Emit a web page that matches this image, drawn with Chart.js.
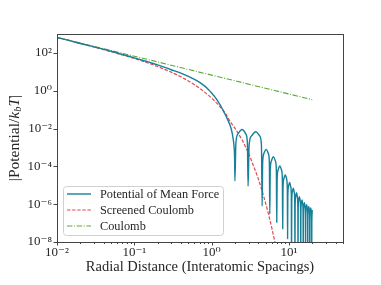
<!DOCTYPE html>
<html lang="en">
<head>
    <meta charset="UTF-8">
    <title>Potential of Mean Force</title>
    <script src="https://cdn.jsdelivr.net/npm/chart.js"></script>
    <style>
        body { margin: 0; background: #fff; }
        #wrap { width: 381px; height: 285px; position: relative; }
    </style>
</head>
<body>
<div id="wrap"><canvas id="graficoPMF"></canvas></div>

<script>
// potential of mean force
const pmfX = [0.01, 0.015, 0.02, 0.03, 0.05, 0.07, 0.1, 0.15, 0.2, 0.3,
    0.4, 0.5, 0.6, 0.7, 0.8, 0.9, 1.0, 1.1, 1.2, 1.3, 1.4, 1.5, 1.6, 1.7, 1.8, 1.9, 1.95, 1.98,
    2.0, 2.058, 2.192, 2.48, 2.768, 2.902,
    2.96, 3.052, 3.268, 3.73, 4.192, 4.408,
    4.5, 4.569, 4.73, 5.075, 5.42, 5.581,
    5.65, 5.728, 5.91, 6.3, 6.69, 6.872,
    6.95, 7.031, 7.22, 7.625, 8.03, 8.219,
    8.3, 8.378, 8.56, 8.95, 9.34, 9.522,
    9.6, 9.672, 9.84, 10.2, 10.56, 10.728,
    10.8, 10.869, 11.03, 11.375, 11.72, 11.881,
    11.95, 12.019, 12.18, 12.525, 12.87, 13.031,
    13.1, 13.166, 13.32, 13.65, 13.98, 14.134,
    14.2, 14.266, 14.42, 14.75, 15.08, 15.234,
    15.3, 15.366, 15.52, 15.85, 16.18, 16.334,
    16.4, 16.466, 16.62, 16.95, 17.28, 17.434,
    17.5, 17.566, 17.72, 18.05, 18.38, 18.534,
    18.6, 18.666, 18.82, 19.15, 19.48, 19.634,
    19.7, 19.766, 19.92, 20.0];
const pmfY = [646, 434, 316, 210, 123, 83, 55, 33.5, 23.4, 12.9,
    8.5, 5.75, 4.0, 2.75, 1.86, 1.2, 0.76, 0.47, 0.28, 0.166, 0.095, 0.055, 0.0316, 0.0178, 0.0089, 0.0028, 0.0011, 3.2e-4,
    1.7e-5, 1.66e-3, 5.2e-3, 8.9e-3, 5.2e-3, 1.66e-3,
    9e-6, 1.26e-3, 4.0e-3, 6.8e-3, 4.0e-3, 1.26e-3,
    8e-7, 1.48e-4, 4.7e-4, 7.9e-4, 4.7e-4, 1.48e-4,
    3e-7, 5.9e-5, 1.86e-4, 3.2e-4, 1.86e-4, 5.9e-5,
    1.1e-7, 1.95e-5, 6.2e-5, 1.05e-4, 6.2e-5, 1.95e-5,
    5e-8, 6.6e-6, 2.1e-5, 3.5e-5, 2.1e-5, 6.6e-6,
    1.5e-8, 2.6e-6, 8.3e-6, 1.41e-5, 8.3e-6, 2.6e-6,
    1e-9, 1.32e-6, 4.2e-6, 7.1e-6, 4.2e-6, 1.32e-6,
    1e-9, 7.4e-7, 2.3e-6, 4.0e-6, 2.3e-6, 7.4e-7,
    1e-9, 4.7e-7, 1.48e-6, 2.5e-6, 1.48e-6, 4.7e-7,
    1e-9, 3.1e-7, 9.8e-7, 1.66e-6, 9.8e-7, 3.1e-7,
    1e-9, 2.2e-7, 7.1e-7, 1.2e-6, 7.1e-7, 2.2e-7,
    1e-9, 1.74e-7, 5.5e-7, 9.3e-7, 5.5e-7, 1.74e-7,
    1e-9, 1.41e-7, 4.5e-7, 7.6e-7, 4.5e-7, 1.41e-7,
    1e-9, 1.17e-7, 3.7e-7, 6.3e-7, 3.7e-7, 1.17e-7,
    1e-9, 1.0e-7, 3.2e-7, 5.0e-7];

// screened coulomb
const scrX = [0.01, 0.02, 0.03, 0.05, 0.07, 0.1, 0.15, 0.2, 0.3, 0.4, 0.5, 0.6, 0.7, 0.8,
    1.0, 1.2, 1.5, 1.75, 2.0, 2.5, 3.0, 3.5, 4.0, 4.5, 5.0, 5.5, 6.0, 6.5, 7.0];
const scrY = [650, 317, 205, 116, 78, 50.6, 29.4, 19.1, 9.65, 5.47, 3.31, 2.08, 1.35, 0.89,
    0.41, 0.195, 0.067, 0.022, 0.0105, 2.4e-3, 5.0e-4, 1.0e-4, 2.3e-5, 5.0e-6, 1.1e-6, 2.5e-7, 5.6e-8, 1.25e-8, 2.9e-9];

// bare coulomb
const coulX = [0.01, 0.1, 1, 10, 20];
const coulY = [670, 67, 6.7, 0.67, 0.335];

const serieLabels = ["Potential of Mean Force", "Screened Coulomb", "Coulomb"];

const xTickVals = [0.01, 0.1, 1, 10];
const xTickLabels = ["10\u207B\u00B2", "10\u207B\u00B9", "10\u2070", "10\u00B9"];
const yTickVals = [1e-8, 1e-6, 1e-4, 1e-2, 1, 1e2];
const yTickLabels = ["10\u207B\u2078", "10\u207B\u2076", "10\u207B\u2074", "10\u207B\u00B2", "10\u2070", "10\u00B2"];

const FONT = "'Liberation Serif', 'DejaVu Serif', serif";
const INK = "#262626";

function pts(xs, ys) {
    return xs.map((x, i) => ({ x: x, y: ys[i] }));
}

// frame, minor ticks, y title and legend drawn by hand
const extras = {
    id: "extras",
    afterDraw(chart) {
        const ctx = chart.ctx;
        const a = chart.chartArea;
        const sx = chart.scales.x, sy = chart.scales.y;
        ctx.save();
        ctx.strokeStyle = "#444";
        ctx.lineWidth = 1;
        ctx.strokeRect(Math.round(a.left) + 0.5, Math.round(a.top) + 0.5,
            Math.round(a.right - a.left), Math.round(a.bottom - a.top));

        ctx.beginPath();
        for (let d = -2; d <= 1; d++) {
            for (let m = 1; m <= 9; m++) {
                const v = m * Math.pow(10, d);
                if (v > sx.max) continue;
                const px = Math.round(sx.getPixelForValue(v)) + 0.5;
                const len = m === 1 ? 3.5 : 2;
                ctx.moveTo(px, a.bottom);
                ctx.lineTo(px, a.bottom + len);
            }
        }
        yTickVals.forEach(v => {
            const py = Math.round(sy.getPixelForValue(v)) + 0.5;
            ctx.moveTo(a.left, py);
            ctx.lineTo(a.left - 3.5, py);
        });
        ctx.stroke();

        // y axis title with subscript
        ctx.translate(15, (a.top + a.bottom) / 2);
        ctx.rotate(-Math.PI / 2);
        ctx.fillStyle = INK;
        ctx.textBaseline = "middle";
        const parts = [
            ["|Potential/", "15.5px " + FONT, 0],
            ["k", "italic 15.5px " + FONT, 0],
            ["b", "italic 10.5px " + FONT, 3],
            ["T", "italic 15.5px " + FONT, 0],
            ["|", "15.5px " + FONT, 0]
        ];
        let total = 0;
        parts.forEach(p => { ctx.font = p[1]; total += ctx.measureText(p[0]).width; });
        let cx = -total / 2;
        parts.forEach(p => {
            ctx.font = p[1];
            ctx.fillText(p[0], cx, p[2]);
            cx += ctx.measureText(p[0]).width;
        });
        ctx.restore();

        // legend
        ctx.save();
        const bx = 63, by = 186, bw = 160, bh = 49;
        ctx.beginPath();
        ctx.roundRect(bx + 0.5, by + 0.5, bw, bh, 3);
        ctx.fillStyle = "rgba(255,255,255,0.85)";
        ctx.fill();
        ctx.strokeStyle = "#d0d0d0";
        ctx.lineWidth = 1;
        ctx.stroke();
        const rows = [194, 210, 226];
        chart.data.datasets.forEach((ds, i) => {
            ctx.beginPath();
            ctx.setLineDash(ds.borderDash || []);
            ctx.strokeStyle = ds.borderColor;
            ctx.lineWidth = ds.borderWidth;
            ctx.moveTo(67, rows[i]);
            ctx.lineTo(91, rows[i]);
            ctx.stroke();
            ctx.setLineDash([]);
            ctx.fillStyle = INK;
            ctx.font = "12.3px " + FONT;
            ctx.textBaseline = "middle";
            ctx.fillText(ds.label, 100, rows[i] + 1);
        });
        ctx.restore();
    }
};

new Chart(document.getElementById("graficoPMF").getContext("2d"), {
    type: "line",
    data: {
        datasets: [{
            label: serieLabels[0],
            data: pts(pmfX, pmfY),
            borderColor: "#16809a",
            borderWidth: 1.4,
            pointRadius: 0,
            cubicInterpolationMode: "monotone",
            fill: false
        }, {
            label: serieLabels[1],
            data: pts(scrX, scrY),
            borderColor: "#e34a4f",
            borderWidth: 1.2,
            borderDash: [3.5, 1.6],
            pointRadius: 0,
            tension: 0,
            fill: false
        }, {
            label: serieLabels[2],
            data: pts(coulX, coulY),
            borderColor: "#5ea83a",
            borderWidth: 1.1,
            borderDash: [5.5, 1.6, 1, 1.6],
            pointRadius: 0,
            tension: 0,
            fill: false
        }]
    },
    options: {
        responsive: true,
        maintainAspectRatio: false,
        animation: false,
        events: [],
        layout: { padding: { top: 34, right: 38, left: 0, bottom: 0 } },
        plugins: { legend: { display: false }, tooltip: { enabled: false } },
        scales: {
            x: {
                type: "logarithmic",
                min: 0.01,
                max: 50,
                grid: { display: false, drawTicks: false },
                border: { display: false },
                afterBuildTicks: s => { s.ticks = xTickVals.map(v => ({ value: v, major: true })); },
                afterFit: s => { s.height = 43; },
                ticks: {
                    autoSkip: false,
                    maxRotation: 0,
                    padding: 3,
                    color: INK,
                    font: { family: FONT, size: 13 },
                    callback: (v, i) => xTickLabels[i]
                },
                title: {
                    display: true,
                    text: "Radial Distance (Interatomic Spacings)",
                    color: INK,
                    font: { family: FONT, size: 14.5 },
                    padding: { top: 0, bottom: 9 }
                }
            },
            y: {
                type: "logarithmic",
                min: 1e-8,
                max: 1e3,
                grid: { display: false, drawTicks: false },
                border: { display: false },
                afterBuildTicks: s => { s.ticks = yTickVals.map(v => ({ value: v, major: true })); },
                afterFit: s => { s.width = 57; },
                ticks: {
                    autoSkip: false,
                    padding: 5,
                    color: INK,
                    font: { family: FONT, size: 13 },
                    callback: (v, i) => yTickLabels[i]
                }
            }
        }
    },
    plugins: [extras]
});
</script>
</body>
</html>
